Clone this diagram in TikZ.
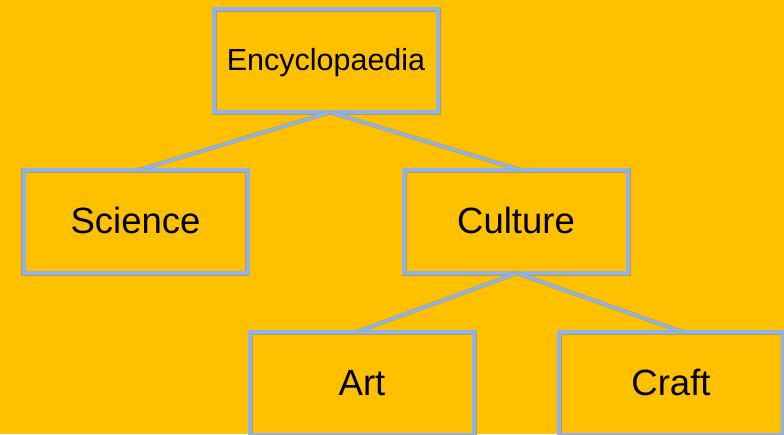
\documentclass[tikz,border=0pt]{standalone}
\usepackage{fontspec}
\setmainfont{Liberation Sans}
\usepackage{xcolor}
\usepackage{tikz}

\definecolor{amber}{HTML}{FFC000}
\definecolor{edgeblue}{HTML}{8DB3EE}
\definecolor{rim}{HTML}{B59A4E}

\tikzset{
    topic/.style={draw=rim, double=edgeblue, double distance=4pt, line width=0.5pt,
        minimum width=224pt, minimum height=103pt, inner sep=0pt,
        text height=24pt, text depth=0pt,
        font=\fontsize{36.5}{40}\selectfont},
    link/.style={draw=rim, double=edgeblue, double distance=3.2pt, line width=0.45pt}
}

\begin{document}
\begin{tikzpicture}[x=1pt,y=-1pt]

    % background
    \fill [amber] (0,0) rectangle (784,434);
    \useasboundingbox (0,0) rectangle (784,434);

    % boxes
    \node [topic, text height=20pt, font=\fontsize{30.5}{34}\selectfont] (ency) at (326,60.5) {Encyclopaedia};
    \node [topic] (sci) at (135.5,221.5) {Science};
    \node [topic] (cul) at (516,221.5) {Culture};
    \node [topic] (art) at (362,383.5) {Art};
    \node [topic] (craft) at (671,383.5) {Craft};

    % links
    \draw [link] ([xshift=4pt]ency.south) -- ([xshift=4pt]sci.north);
    \draw [link] ([xshift=4pt]ency.south) -- ([xshift=4pt]cul.north);
    \draw [link] ([xshift=1pt]cul.south) -- ([xshift=-5pt]art.north);
    \draw [link] ([xshift=1pt]cul.south) -- ([xshift=11pt]craft.north);

\end{tikzpicture}
\end{document}
